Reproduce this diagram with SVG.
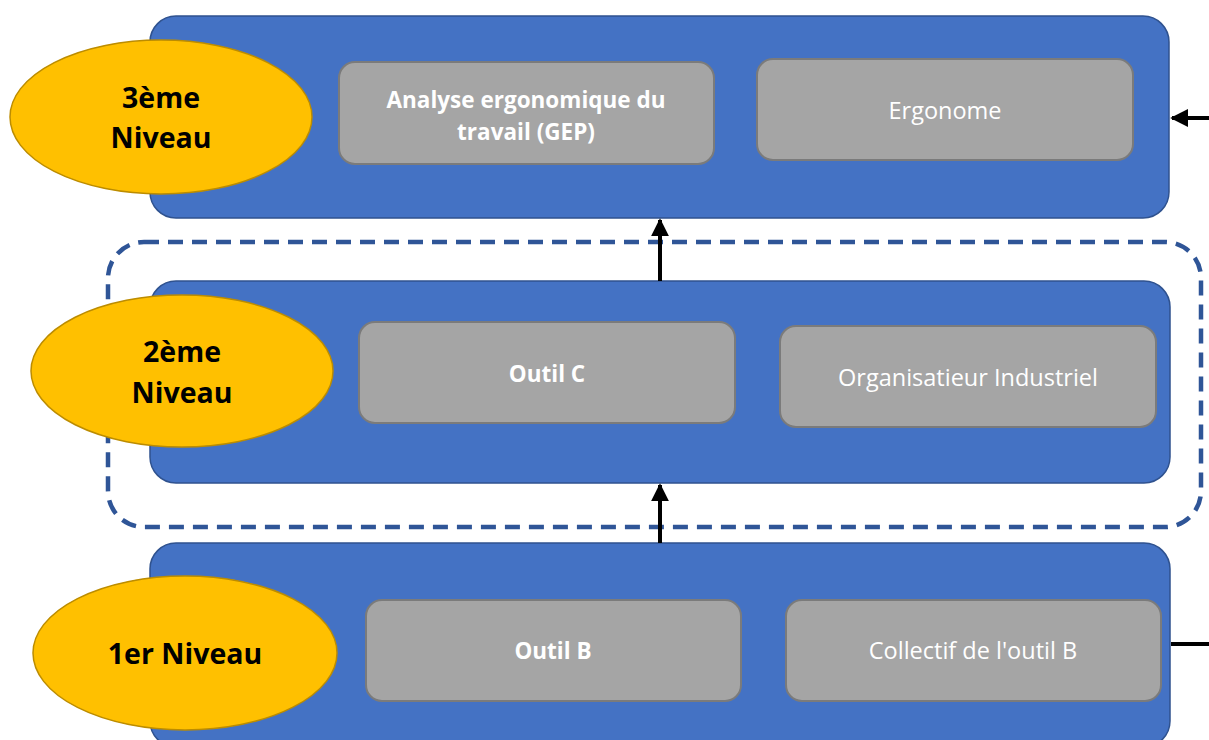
<svg xmlns="http://www.w3.org/2000/svg" width="1209" height="740" viewBox="0 0 1209 740">
<style>
.lvl{fill:#4472C4;stroke:#2F528F;stroke-width:1.5}
.box{fill:#A5A5A5;stroke:#7B7B7B;stroke-width:2}
.ell{fill:#FFC000;stroke:#BC8C00;stroke-width:1.5}
.bt{font-family:"Open Sans","Liberation Sans",sans-serif;font-size:23.5px;fill:#FFFFFF;text-anchor:middle}
.b{font-weight:bold;font-size:22.5px}
.et{font-family:"Open Sans","Liberation Sans",sans-serif;font-size:28.5px;font-weight:bold;fill:#000000;text-anchor:middle}
.con{stroke:#000000;stroke-width:4;fill:none}
</style>
<defs>
<marker id="ah" viewBox="0 0 10 10" refX="9" refY="5" markerWidth="4.5" markerHeight="4.5" orient="auto" markerUnits="strokeWidth">
<path d="M0,0 L10,5 L0,10 z" fill="#000000"/>
</marker>
</defs>
<rect width="1209" height="740" fill="#FFFFFF"/>

<g id="level3">
<rect class="lvl" x="150" y="16" width="1019" height="202" rx="26"/>
</g>
<g id="level2">
<rect class="lvl" x="150" y="281" width="1020" height="202" rx="26"/>
</g>
<g id="level1">
<rect class="lvl" x="150" y="543" width="1020" height="204" rx="26"/>
</g>

<g id="group-dashed">
<rect x="108" y="242" width="1093" height="285" rx="36" fill="none" stroke="#2F5597" stroke-width="4.5" stroke-dasharray="15,9"/>
</g>

<g id="connectors">
<line class="con" x1="660" y1="281" x2="660" y2="220" marker-end="url(#ah)"/>
<line class="con" x1="660" y1="543" x2="660" y2="485" marker-end="url(#ah)"/>
<line class="con" x1="1209" y1="118" x2="1172" y2="118" marker-end="url(#ah)"/>
<line class="con" x1="1171" y1="644" x2="1209" y2="644"/>
</g>

<g id="ellipse3">
<ellipse class="ell" cx="161" cy="117" rx="151" ry="77"/>
<text class="et" x="161" y="108">3ème</text>
<text class="et" x="161" y="148">Niveau</text>
</g>
<g id="ellipse2">
<ellipse class="ell" cx="182" cy="371" rx="151" ry="76"/>
<text class="et" x="182" y="362">2ème</text>
<text class="et" x="182" y="403">Niveau</text>
</g>
<g id="ellipse1">
<ellipse class="ell" cx="185" cy="653" rx="152" ry="77"/>
<text class="et" x="185" y="664">1er Niveau</text>
</g>

<g id="box-analyse">
<rect class="box" x="339" y="62" width="375" height="102" rx="16"/>
<text class="bt b" x="526" y="108">Analyse ergonomique du</text>
<text class="bt b" x="526" y="140">travail (GEP)</text>
</g>
<g id="box-ergonome">
<rect class="box" x="757" y="59" width="376" height="101" rx="16"/>
<text class="bt" x="945" y="119">Ergonome</text>
</g>
<g id="box-outilC">
<rect class="box" x="359" y="322" width="376" height="101" rx="16"/>
<text class="bt b" x="547" y="382">Outil C</text>
</g>
<g id="box-organisateur">
<rect class="box" x="780" y="326" width="376" height="101" rx="16"/>
<text class="bt" x="968" y="386">Organisatieur Industriel</text>
</g>
<g id="box-outilB">
<rect class="box" x="366" y="600" width="375" height="101" rx="16"/>
<text class="bt b" x="553" y="659">Outil B</text>
</g>
<g id="box-collectif">
<rect class="box" x="786" y="600" width="375" height="101" rx="16"/>
<text class="bt" x="973" y="659">Collectif de l'outil B</text>
</g>
</svg>
